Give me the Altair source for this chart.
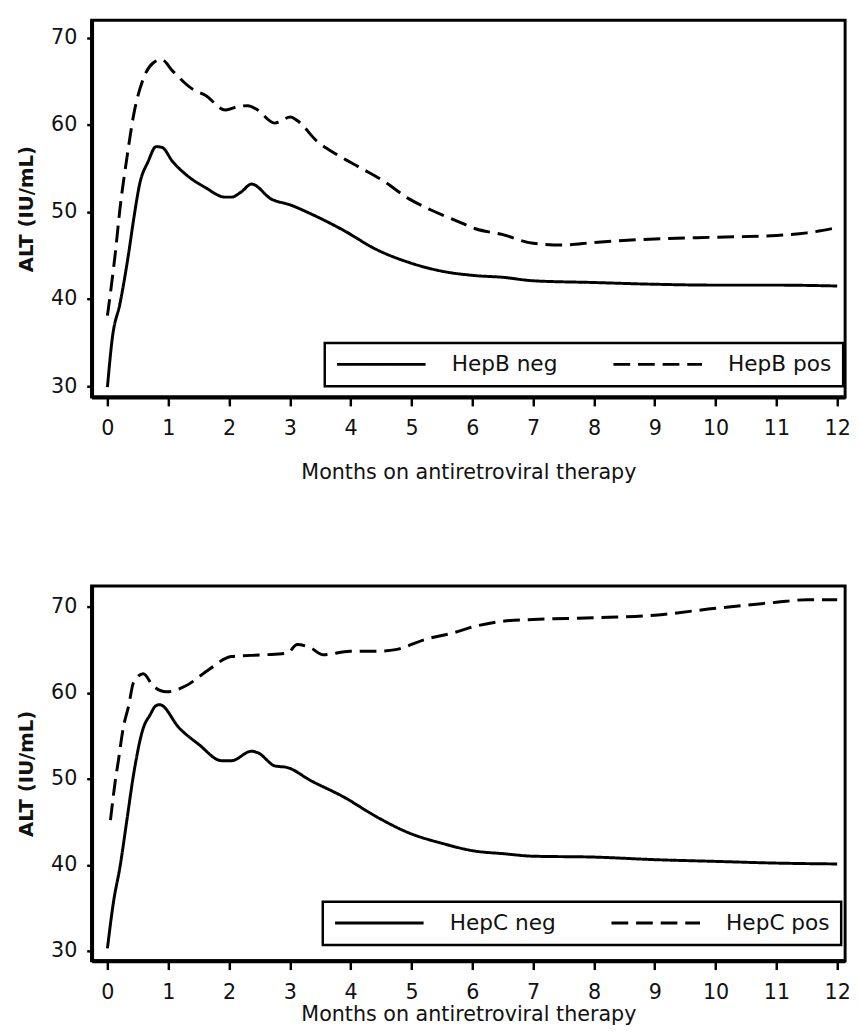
import altair as alt
import pandas as pd

# ---- data ----
hepb_neg_month = [0, 0.08, 0.21, 0.35, 0.43, 0.53, 0.67, 0.8, 0.9, 1.07, 1.29, 1.61, 1.94, 2.04, 2.2, 2.37, 2.69,
                  3.01, 3.34, 3.88, 4.42, 4.96, 5.5, 6.04, 6.5, 7, 8, 9, 10, 11, 12]
hepb_neg_alt = [29.9, 35.5, 39.6, 45.3, 49.1, 53.2, 55.8, 57.5, 57.4, 55.8, 54.3, 52.8, 51.7, 51.7, 52.3, 53.2, 51.5,
                50.8, 49.8, 47.9, 45.7, 44.2, 43.2, 42.7, 42.5, 42.1, 41.9, 41.7, 41.6, 41.6, 41.5]

hepb_pos_month = [0, 0.13, 0.21, 0.32, 0.43, 0.59, 0.75, 0.89, 1.07, 1.4, 1.61, 1.94, 2.15, 2.31, 2.45, 2.75, 3.01,
                  3.12, 3.45, 3.77, 4.15, 4.53, 4.96, 5.33, 5.77, 6.04, 6.5, 7, 7.5, 8, 9, 10, 11, 11.5, 12]
hepb_pos_alt = [38.1, 45.3, 50.6, 56.2, 61.1, 65.3, 67.1, 67.5, 66.2, 64.1, 63.4, 61.7, 62.1, 62.2, 61.8, 60.2, 60.9,
                60.5, 58.1, 56.6, 55.1, 53.6, 51.5, 50.2, 48.9, 48.1, 47.4, 46.4, 46.2, 46.5, 46.9, 47.1, 47.3, 47.6, 48.2]

hepc_neg_month = [0, 0.1, 0.21, 0.32, 0.43, 0.59, 0.7, 0.8, 0.86, 1.18, 1.5, 1.88, 2.04, 2.37, 2.48, 2.75, 2.96,
                  3.34, 3.88, 4.42, 4.96, 5.5, 6.04, 6.5, 7, 8, 9, 10, 11, 12]
hepc_neg_alt = [30.3, 35.7, 39.9, 45.2, 50.5, 55.9, 57.4, 58.5, 58.6, 55.9, 54.0, 52.1, 52.1, 53.2, 53.0, 51.5, 51.3,
                49.8, 47.9, 45.6, 43.7, 42.5, 41.6, 41.3, 41.0, 40.9, 40.6, 40.4, 40.2, 40.1]

hepc_pos_month = [0.05, 0.13, 0.18, 0.26, 0.35, 0.43, 0.59, 0.75, 0.97, 1.29, 1.67, 2.04, 2.58, 2.96, 3.12, 3.34,
                  3.55, 3.99, 4.42, 4.74, 5.23, 5.66, 6.04, 6.5, 7, 8, 9, 10, 11, 11.5, 12]
hepc_pos_alt = [45.2, 49.8, 52.1, 55.9, 58.5, 61.2, 62.2, 60.8, 60.1, 60.8, 62.7, 64.2, 64.4, 64.6, 65.6, 65.2,
                64.4, 64.8, 64.8, 65.0, 66.2, 66.9, 67.7, 68.3, 68.5, 68.7, 69.0, 69.8, 70.5, 70.8, 70.8]

groups_b = ["HepB neg", "HepB pos"]
groups_c = ["HepC neg", "HepC pos"]
x_ticks = list(range(0, 13))
y_ticks = [30, 40, 50, 60, 70]

FONT = "DejaVu Sans"


def frame(names, xs, ys):
    rows = []
    for name, mx, my in zip(names, xs, ys):
        for a, b in zip(mx, my):
            rows.append({"month": a, "alt": b, "group": name})
    return pd.DataFrame(rows)


df_b = frame(groups_b, [hepb_neg_month, hepb_pos_month], [hepb_neg_alt, hepb_pos_alt])
df_c = frame(groups_c, [hepc_neg_month, hepc_pos_month], [hepc_neg_alt, hepc_pos_alt])


def panel(df, names, ydom, height, title_pad, leg_y, leg_x):
    return alt.Chart(df).mark_line(strokeWidth=3, color="black", interpolate="monotone").encode(
        x=alt.X("month:Q",
                scale=alt.Scale(domain=[-0.26, 12.13], nice=False, zero=False),
                axis=alt.Axis(values=x_ticks, title="Months on antiretroviral therapy",
                              titlePadding=title_pad, tickSize=9, labelPadding=12, format="d")),
        y=alt.Y("alt:Q",
                scale=alt.Scale(domain=ydom, nice=False, zero=False),
                axis=alt.Axis(values=y_ticks, title="ALT (IU/mL)", tickSize=5, labelPadding=10,
                              titlePadding=14, titleFontWeight="bold", titleFontSize=20)),
        strokeDash=alt.StrokeDash("group:N",
                                  scale=alt.Scale(domain=names, range=[[1, 0], [17, 8]]),
                                  legend=alt.Legend(orient="none", legendX=leg_x, legendY=leg_y,
                                                    direction="horizontal", title=None,
                                                    symbolType="stroke", symbolSize=8100,
                                                    symbolStrokeWidth=3, symbolStrokeColor="black",
                                                    clipHeight=21,
                                                    labelOffset=25, columnPadding=55, padding=11,
                                                    strokeColor="black", labelFontSize=22,
                                                    labelFont=FONT, labelColor="#111")),
    ).properties(width=766, height=height)


top = panel(df_b, groups_b, [28.75, 72.0], 383, 24, 328, 237)
bottom = panel(df_c, groups_c, [28.86, 72.4], 381, 2, 321, 235)

chart = alt.vconcat(top, bottom, spacing=101).resolve_scale(strokeDash="independent").properties(
    padding={"left": 7, "top": 2, "right": 0, "bottom": 0}
).configure_view(
    stroke="black", strokeWidth=3
).configure_axis(
    grid=False, domainColor="black", domainWidth=4, tickColor="black", tickWidth=2.5,
    labelFont=FONT, labelFontSize=21, labelColor="#111",
    titleFont=FONT, titleFontSize=21, titleColor="#111", titleFontWeight="normal"
).configure_legend(
    strokeWidth=2.5
)

chart.save("out.html", embed_options={"renderer": "svg", "actions": False})
